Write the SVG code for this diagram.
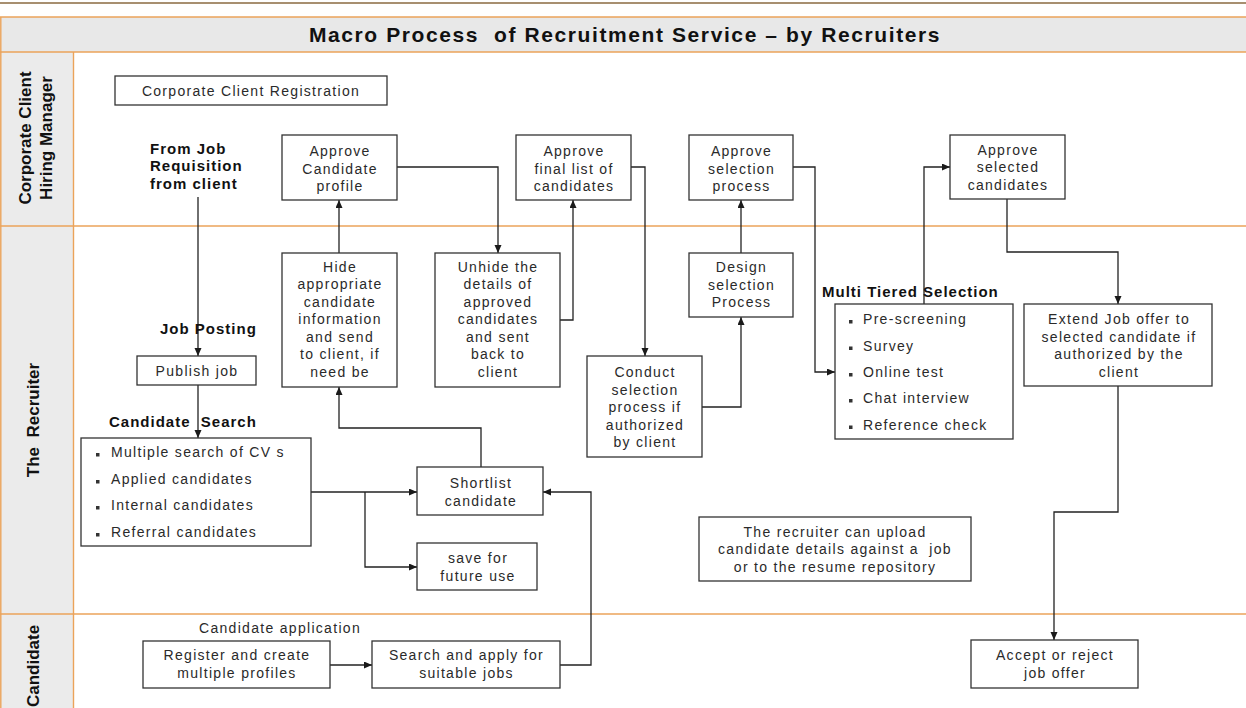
<svg xmlns="http://www.w3.org/2000/svg" width="1246" height="708" viewBox="0 0 1246 708">
<defs>
<marker id="ah" markerUnits="userSpaceOnUse" markerWidth="9" markerHeight="8" refX="8" refY="3.5" orient="auto">
<path d="M0,0 L8,3.5 L0,7 z" fill="#1a1a1a"/>
</marker>
<style>
.bg{fill:#ffffff}
.lanehdr{fill:#ebebeb}
.orange{stroke:#eba35a;stroke-width:1.4;fill:none}
.box{fill:#ffffff;stroke:#333333;stroke-width:1.3}
.t{font-family:"Liberation Sans",Arial,sans-serif;font-size:14px;letter-spacing:1.3px;fill:#2a2a2a;text-anchor:middle}
.tl{font-family:"Liberation Sans",Arial,sans-serif;font-size:14px;letter-spacing:1.3px;fill:#2a2a2a}
.b{font-family:"Liberation Sans",Arial,sans-serif;font-size:15px;font-weight:bold;letter-spacing:1px;fill:#111111;white-space:pre}
.lane{font-family:"Liberation Sans",Arial,sans-serif;font-size:17px;font-weight:bold;fill:#111111;text-anchor:middle;white-space:pre}
.title{font-family:"Liberation Sans",Arial,sans-serif;font-size:21px;font-weight:bold;letter-spacing:1.6px;fill:#111111;text-anchor:middle;white-space:pre}
.bul{fill:#333333}
.c{fill:none;stroke:#222222;stroke-width:1.3;marker-end:url(#ah)}
.cn{fill:none;stroke:#222222;stroke-width:1.3}
</style>
</defs>
<rect class="bg" x="0" y="0" width="1246" height="708"/>
<g id="frame">
<line x1="0" y1="3" x2="1246" y2="3" stroke="#8a6a40" stroke-width="1.6"/>
<rect x="0" y="17" width="1246" height="35" fill="#e8e8e8"/>
<rect class="lanehdr" x="0" y="52" width="73" height="656"/>
<line class="orange" x1="0" y1="17" x2="1246" y2="17"/>
<line class="orange" x1="0" y1="52" x2="1246" y2="52"/>
<line class="orange" x1="0" y1="226" x2="1246" y2="226"/>
<line class="orange" x1="0" y1="614" x2="1246" y2="614"/>
<line class="orange" x1="73.5" y1="52" x2="73.5" y2="708"/>
<line class="orange" x1="0.8" y1="17" x2="0.8" y2="708"/>
<text class="title" x="625" y="42">Macro Process  of Recruitment Service – by Recruiters</text>
</g>
<g id="lane-labels">
<text class="lane" transform="translate(31,138) rotate(-90)">Corporate Client</text>
<text class="lane" transform="translate(52,138) rotate(-90)">Hiring Manager</text>
<text class="lane" transform="translate(39,420) rotate(-90)">The  Recruiter</text>
<text class="lane" transform="translate(39,666) rotate(-90)">Candidate</text>
</g>
<g id="connectors">
<path class="c" d="M198,197 V356"/>
<path class="c" d="M198,385 V438"/>
<path class="c" d="M311,492 H417"/>
<path class="c" d="M365,492 V567 H417"/>
<path class="c" d="M481,467 V428 H339 V387"/>
<path class="c" d="M339,253 V200"/>
<path class="c" d="M397,167 H498 V253"/>
<path class="c" d="M560,320 H573 V200"/>
<path class="c" d="M631,167 H645 V356"/>
<path class="c" d="M702,407 H741 V317"/>
<path class="c" d="M741,253 V200"/>
<path class="c" d="M793,167 H815 V372 H835"/>
<path class="c" d="M924,304 V167 H950"/>
<path class="c" d="M1007,199 V252 H1118 V304"/>
<path class="c" d="M1118,386 V512 H1054 V640"/>
<path class="c" d="M330,665 H372"/>
<path class="c" d="M560,665 H591 V492 H543"/>
</g>
<g id="labels">
<text class="b" x="150" y="153.5">From Job</text>
<text class="b" x="150" y="171">Requisition</text>
<text class="b" x="150" y="188.5">from client</text>
<text class="b" x="160" y="334">Job Posting</text>
<text class="b" x="109" y="427">Candidate  Search</text>
<text class="b" x="822" y="297">Multi Tiered Selection</text>
<text class="t" x="280" y="632.5">Candidate application</text>
</g>
<g id="node-registration">
<rect class="box" x="115" y="76" width="272" height="29"/>
<text class="t" x="251" y="95.5">Corporate Client Registration</text>
</g>
<g id="node-approve-profile">
<rect class="box" x="282" y="135" width="115" height="65"/>
<text class="t" x="340" y="156">Approve</text>
<text class="t" x="340" y="173.5">Candidate</text>
<text class="t" x="340" y="191">profile</text>
</g>
<g id="node-approve-final">
<rect class="box" x="516" y="135" width="115" height="65"/>
<text class="t" x="574" y="156">Approve</text>
<text class="t" x="574" y="173.5">final list of</text>
<text class="t" x="574" y="191">candidates</text>
</g>
<g id="node-approve-selection">
<rect class="box" x="689" y="135" width="104" height="65"/>
<text class="t" x="741.5" y="156">Approve</text>
<text class="t" x="741.5" y="173.5">selection</text>
<text class="t" x="741.5" y="191">process</text>
</g>
<g id="node-approve-selected">
<rect class="box" x="950" y="135" width="115" height="64"/>
<text class="t" x="1008" y="154.5">Approve</text>
<text class="t" x="1008" y="172">selected</text>
<text class="t" x="1008" y="189.5">candidates</text>
</g>
<g id="node-publish">
<rect class="box" x="137" y="356" width="119" height="29"/>
<text class="t" x="197" y="375.5">Publish job</text>
</g>
<g id="node-candidate-search">
<rect class="box" x="81" y="438" width="230" height="108"/>
<rect class="bul" x="96" y="453" width="3.5" height="3.5"/>
<rect class="bul" x="96" y="480" width="3.5" height="3.5"/>
<rect class="bul" x="96" y="506" width="3.5" height="3.5"/>
<rect class="bul" x="96" y="533" width="3.5" height="3.5"/>
<text class="tl" x="111" y="457">Multiple search of CV s</text>
<text class="tl" x="111" y="484">Applied candidates</text>
<text class="tl" x="111" y="510">Internal candidates</text>
<text class="tl" x="111" y="537">Referral candidates</text>
</g>
<g id="node-hide">
<rect class="box" x="282" y="253" width="115" height="134"/>
<text class="t" x="340" y="271.5">Hide</text>
<text class="t" x="340" y="289">appropriate</text>
<text class="t" x="340" y="306.5">candidate</text>
<text class="t" x="340" y="324">information</text>
<text class="t" x="340" y="341.5">and send</text>
<text class="t" x="340" y="359">to client, if</text>
<text class="t" x="340" y="376.5">need be</text>
</g>
<g id="node-unhide">
<rect class="box" x="435" y="253" width="125" height="134"/>
<text class="t" x="498" y="271.5">Unhide the</text>
<text class="t" x="498" y="289">details of</text>
<text class="t" x="498" y="306.5">approved</text>
<text class="t" x="498" y="324">candidates</text>
<text class="t" x="498" y="341.5">and sent</text>
<text class="t" x="498" y="359">back to</text>
<text class="t" x="498" y="376.5">client</text>
</g>
<g id="node-conduct">
<rect class="box" x="587" y="356" width="115" height="101"/>
<text class="t" x="645" y="377">Conduct</text>
<text class="t" x="645" y="394.5">selection</text>
<text class="t" x="645" y="412">process if</text>
<text class="t" x="645" y="429.5">authorized</text>
<text class="t" x="645" y="447">by client</text>
</g>
<g id="node-design">
<rect class="box" x="689" y="253" width="104" height="64"/>
<text class="t" x="741.5" y="272">Design</text>
<text class="t" x="741.5" y="289.5">selection</text>
<text class="t" x="741.5" y="307">Process</text>
</g>
<g id="node-multi-tiered">
<rect class="box" x="835" y="304" width="178" height="135"/>
<rect class="bul" x="849" y="320" width="3.5" height="3.5"/>
<rect class="bul" x="849" y="346.5" width="3.5" height="3.5"/>
<rect class="bul" x="849" y="373" width="3.5" height="3.5"/>
<rect class="bul" x="849" y="399" width="3.5" height="3.5"/>
<rect class="bul" x="849" y="425.5" width="3.5" height="3.5"/>
<text class="tl" x="863" y="324">Pre-screening</text>
<text class="tl" x="863" y="350.5">Survey</text>
<text class="tl" x="863" y="377">Online test</text>
<text class="tl" x="863" y="403">Chat interview</text>
<text class="tl" x="863" y="429.5">Reference check</text>
</g>
<g id="node-extend">
<rect class="box" x="1024" y="304" width="188" height="82"/>
<text class="t" x="1119" y="324">Extend Job offer to</text>
<text class="t" x="1119" y="341.5">selected candidate if</text>
<text class="t" x="1119" y="359">authorized by the</text>
<text class="t" x="1119" y="376.5">client</text>
</g>
<g id="node-shortlist">
<rect class="box" x="417" y="467" width="126" height="48"/>
<text class="t" x="481" y="488">Shortlist</text>
<text class="t" x="481" y="505.5">candidate</text>
</g>
<g id="node-save">
<rect class="box" x="417" y="543" width="120" height="47"/>
<text class="t" x="478" y="563">save for</text>
<text class="t" x="478" y="580.5">future use</text>
</g>
<g id="node-note">
<rect class="box" x="699" y="517" width="272" height="64"/>
<text class="t" x="835" y="536.5">The recruiter can upload</text>
<text class="t" x="835" y="554" style="white-space:pre">candidate details against a  job</text>
<text class="t" x="835" y="571.5">or to the resume repository</text>
</g>
<g id="node-register">
<rect class="box" x="143" y="641" width="187" height="47"/>
<text class="t" x="237" y="660">Register and create</text>
<text class="t" x="237" y="677.5">multiple profiles</text>
</g>
<g id="node-search-apply">
<rect class="box" x="372" y="641" width="188" height="47"/>
<text class="t" x="466.5" y="660">Search and apply for</text>
<text class="t" x="466.5" y="677.5">suitable jobs</text>
</g>
<g id="node-accept">
<rect class="box" x="971" y="640" width="167" height="48"/>
<text class="t" x="1055" y="660">Accept or reject</text>
<text class="t" x="1055" y="677.5">job offer</text>
</g>
</svg>
